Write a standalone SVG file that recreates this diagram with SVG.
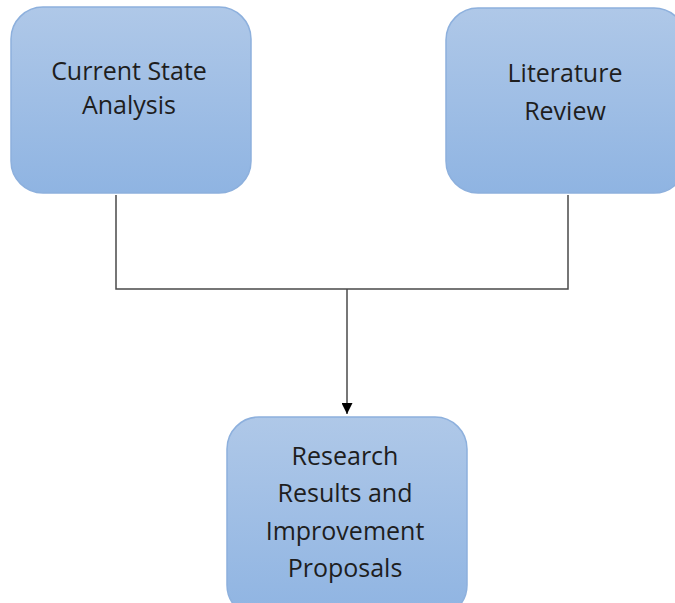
<svg xmlns="http://www.w3.org/2000/svg" width="675" height="603" viewBox="0 0 675 603">
  <style>
    .box { fill: url(#boxFill); stroke: #8db0dd; stroke-width: 1.5; }
    .label { font-family: "Open Sans", Lato, "Liberation Sans", sans-serif; font-size: 25px; fill: #1e1e1e; text-anchor: middle; }
    .wire { fill: none; stroke: #4a4a4a; stroke-width: 1.5; }
  </style>
  <defs>
    <linearGradient id="boxFill" x1="0" y1="0" x2="0" y2="1">
      <stop offset="0" stop-color="#afc8e8"/>
      <stop offset="1" stop-color="#8fb4e2"/>
    </linearGradient>
    <marker id="arrow" viewBox="0 0 10 10" refX="10" refY="5" markerWidth="12" markerHeight="11" markerUnits="userSpaceOnUse" orient="auto">
      <path d="M0,0 L10,5 L0,10 Z" fill="#000"/>
    </marker>
  </defs>

  <g id="connectors">
    <polyline class="wire" points="116,195 116,289 568,289 568,195"/>
    <line class="wire" x1="347" y1="289" x2="347" y2="414" marker-end="url(#arrow)"/>
  </g>

  <g id="current-state">
    <rect class="box" x="11" y="7" width="240" height="186" rx="32"/>
    <text class="label" x="129" y="80">Current State</text>
    <text class="label" x="129" y="114">Analysis</text>
  </g>

  <g id="literature-review">
    <rect class="box" x="446" y="8" width="240" height="185" rx="32"/>
    <text class="label" x="565" y="82">Literature</text>
    <text class="label" x="565" y="120">Review</text>
  </g>

  <g id="research-results">
    <rect class="box" x="227" y="417" width="240" height="200" rx="32"/>
    <text class="label" x="345" y="465">Research</text>
    <text class="label" x="345" y="502">Results and</text>
    <text class="label" x="345" y="540">Improvement</text>
    <text class="label" x="345" y="577">Proposals</text>
  </g>
</svg>
